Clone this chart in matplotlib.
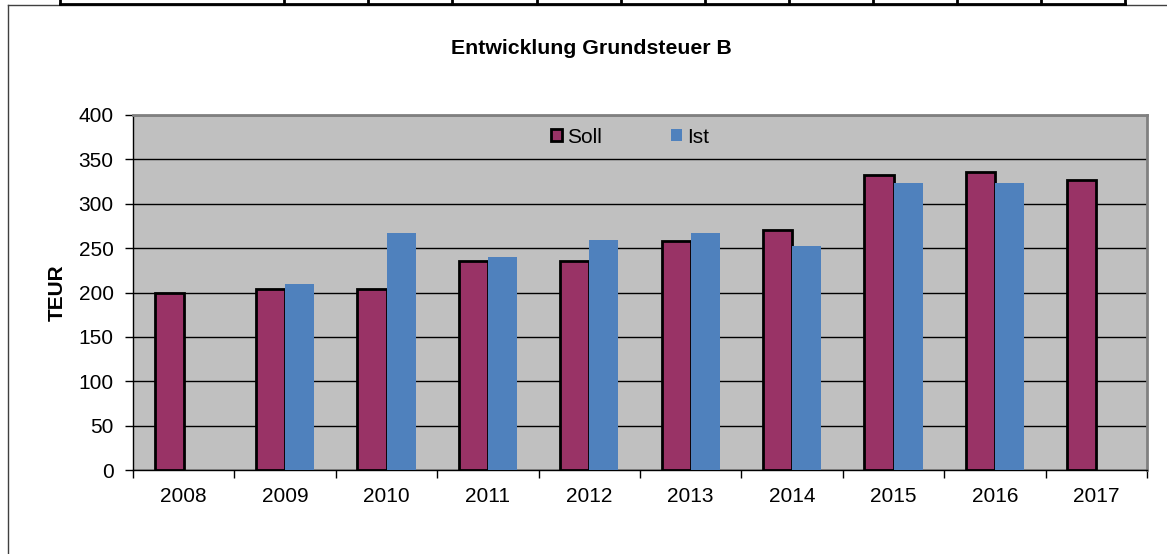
import matplotlib
matplotlib.use("Agg")
import matplotlib.pyplot as plt
from matplotlib.lines import Line2D
import numpy as np

years = ["2008", "2009", "2010", "2011", "2012", "2013", "2014", "2015", "2016", "2017"]
soll = [200, 204, 204, 236, 235, 258, 270, 332, 336, 327]
ist = [np.nan, 210, 267, 240, 259, 267, 252, 323, 323, np.nan]
title = "Entwicklung Grundsteuer B"
ylabel = "TEUR"

W, H = 1167, 554
plt.rcParams['font.family'] = ['Liberation Sans', 'DejaVu Sans']
fig = plt.figure(figsize=(W / 100, H / 100), dpi=100)

# outer chart frame and table lines at top
fig.add_artist(Line2D([8 / W, 8 / W], [0, 1 - 5 / H], color="#404040", lw=1))
fig.add_artist(Line2D([8 / W, 1], [1 - 5 / H, 1 - 5 / H], color="#404040", lw=1))
fig.add_artist(Line2D([60 / W, 1125 / W], [1 - 4 / H, 1 - 4 / H], color="black", lw=2))
for xv in [60, 284, 368, 452, 537, 621, 705, 789, 873, 957, 1041, 1125]:
    fig.add_artist(Line2D([xv / W, xv / W], [1 - 4 / H, 1], color="black", lw=2))

left, right, top, bottom = 133, 1147, 115, 470
ax = fig.add_axes([left / W, 1 - bottom / H, (right - left) / W, (bottom - top) / H])
ax.set_facecolor("#C0C0C0")

x = np.arange(len(years))
bw = 0.286
ax.bar(x - bw / 2, soll, width=bw, color="#993366", edgecolor="black", linewidth=2, label="Soll", zorder=3)
ax.bar(x + bw / 2, ist, width=bw, color="#4F81BD", edgecolor="none", label="Ist", zorder=3)

ax.set_xlim(-0.5, len(years) - 0.5)
ax.set_ylim(0, 400)
ax.set_yticks(np.arange(0, 401, 50))
ax.yaxis.grid(True, color="black", linewidth=1)
ax.set_axisbelow(True)
ax.set_xticks(x)
ax.set_xticklabels(years)
ax.set_xticks(np.arange(-0.5, len(years), 1), minor=True)
ax.tick_params(axis="x", which="major", length=0, labelsize=15, pad=12)
ax.tick_params(axis="x", which="minor", length=6, width=1, direction="out")
ax.tick_params(axis="y", length=6, width=1, labelsize=15, pad=8)

for s in ["top", "right"]:
    ax.spines[s].set_color("#808080")
    ax.spines[s].set_linewidth(2)
for s in ["left", "bottom"]:
    ax.spines[s].set_color("black")
    ax.spines[s].set_linewidth(1)

ax.set_ylabel(ylabel, fontsize=15, fontweight="bold")
ax.yaxis.set_label_coords((67 - left) / (right - left), 0.5)
fig.text(591 / W, 1 - 48 / H, title, fontsize=15.3, fontweight="bold", ha="center", va="center")

leg = ax.legend(loc="upper center", bbox_to_anchor=((630 - left) / (right - left), 1.0), ncol=2,
                frameon=False, fontsize=15, handlelength=0.55, handleheight=0.55,
                handletextpad=0.25, columnspacing=3.3, borderaxespad=0.2)

fig.savefig("out.png", dpi=100)
